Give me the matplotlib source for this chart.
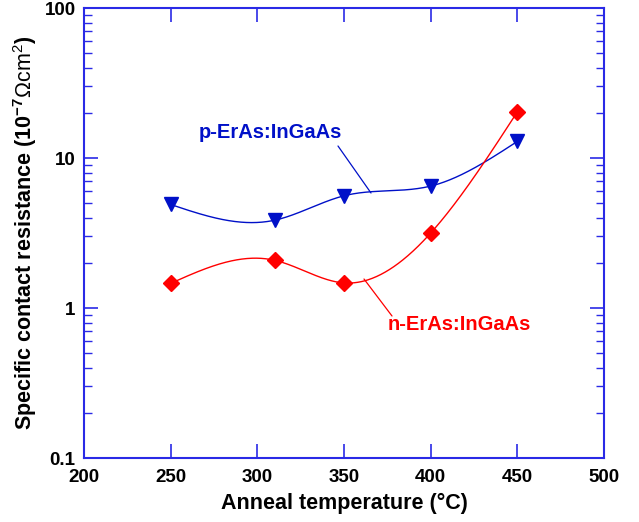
import numpy as np
import matplotlib
matplotlib.use("Agg")
import matplotlib.pyplot as plt
from matplotlib.ticker import LogLocator, NullFormatter, FixedLocator

plt.rcParams['font.family'] = ['Liberation Sans', 'DejaVu Sans']
plt.rcParams['mathtext.fontset'] = 'custom'
plt.rcParams['mathtext.rm'] = 'Liberation Sans'
plt.rcParams['mathtext.bf'] = 'Liberation Sans:bold'
plt.rcParams['mathtext.it'] = 'Liberation Sans:italic'

# Data
temps = [250, 310, 350, 400, 450]
p_rc = [4.9, 3.85, 5.6, 6.5, 12.9]
n_rc = [1.46, 2.08, 1.47, 3.16, 20.3]
x_ticks = [200, 250, 300, 350, 400, 450, 500]
y_ticks = [0.1, 1, 10, 100]
y_ticklabels = ['0.1', '1', '10', '100']

AX_BLUE = '#2a2ae6'
P_BLUE = '#0010c8'
N_RED = '#ff0000'


def natural_spline(x, y, xs):
    x = np.asarray(x, float)
    y = np.asarray(y, float)
    n = len(x)
    h = np.diff(x)
    A = np.zeros((n, n))
    b = np.zeros(n)
    A[0, 0] = 1
    A[-1, -1] = 1
    for i in range(1, n - 1):
        A[i, i - 1] = h[i - 1]
        A[i, i] = 2 * (h[i - 1] + h[i])
        A[i, i + 1] = h[i]
        b[i] = 3 * ((y[i + 1] - y[i]) / h[i] - (y[i] - y[i - 1]) / h[i - 1])
    c = np.linalg.solve(A, b)
    out = np.empty_like(xs)
    for k, xv in enumerate(xs):
        i = min(max(np.searchsorted(x, xv) - 1, 0), n - 2)
        dx = xv - x[i]
        bi = (y[i + 1] - y[i]) / h[i] - h[i] * (2 * c[i] + c[i + 1]) / 3
        di = (c[i + 1] - c[i]) / (3 * h[i])
        out[k] = y[i] + bi * dx + c[i] * dx ** 2 + di * dx ** 3
    return out


fig = plt.figure(figsize=(6.39, 5.22), dpi=100)
ax = fig.add_axes([0.1315, 0.1226, 0.8137, 0.862])

xs = np.linspace(temps[0], temps[-1], 400)
p_s = 10 ** natural_spline(temps, np.log10(p_rc), xs)
n_s = 10 ** natural_spline(temps, np.log10(n_rc), xs)

ax.plot(xs, p_s, color=P_BLUE, lw=1.0)
ax.plot(xs, n_s, color=N_RED, lw=1.0)
ax.plot(temps, p_rc, linestyle='none', marker='v', color=P_BLUE, ms=10)
ax.plot(temps, n_rc, linestyle='none', marker='D', color=N_RED, ms=8)

ax.set_yscale('log')
ax.set_xlim(200, 500)
ax.set_ylim(0.1, 100)

ax.xaxis.set_major_locator(FixedLocator(x_ticks))
ax.set_xticklabels([str(t) for t in x_ticks])
ax.yaxis.set_major_locator(FixedLocator(y_ticks))
ax.set_yticklabels(y_ticklabels)
ax.yaxis.set_minor_locator(LogLocator(base=10, subs=np.arange(2, 10)))
ax.yaxis.set_minor_formatter(NullFormatter())

for s in ax.spines.values():
    s.set_color(AX_BLUE)
    s.set_linewidth(1.5)
ax.tick_params(which='both', direction='in', top=True, right=True, color=AX_BLUE)
ax.tick_params(which='major', length=10, width=1.2)
ax.tick_params(which='minor', length=6, width=1.0)
for lab in ax.get_xticklabels() + ax.get_yticklabels():
    lab.set_fontweight('bold')
    lab.set_fontsize(13.5)
ax.tick_params(axis='x', pad=8)
ax.tick_params(axis='y', pad=6)

ax.set_xlabel('Anneal temperature (\u00b0C)', fontsize=15.5, fontweight='bold', labelpad=5)
ax.set_ylabel(r'Specific contact resistance (10$^{\mathbf{-7}}\Omega\mathrm{cm}^{2}$)',
              fontsize=15.5, fontweight='bold', labelpad=4)

def px(xp, yp):
    inv = ax.transData.inverted()
    return inv.transform((xp, 522 - yp))

fig.canvas.draw()
p1 = px(338, 146); p2 = px(371, 193)
ax.annotate('', xy=p2, xytext=p1,
            arrowprops=dict(arrowstyle='-', color=P_BLUE, lw=0.9, shrinkA=0, shrinkB=0))
t = px(199, 132)
ax.text(t[0], t[1], 'p-ErAs:InGaAs', color=P_BLUE, fontsize=14.5, fontweight='bold',
        ha='left', va='center')

n1 = px(364, 279); n2 = px(392, 316)
ax.annotate('', xy=n1, xytext=n2,
            arrowprops=dict(arrowstyle='-', color=N_RED, lw=0.9, shrinkA=0, shrinkB=0))
t2 = px(388, 324)
ax.text(t2[0], t2[1], 'n-ErAs:InGaAs', color=N_RED, fontsize=14.5, fontweight='bold',
        ha='left', va='center')

fig.savefig('out.png', dpi=100)
